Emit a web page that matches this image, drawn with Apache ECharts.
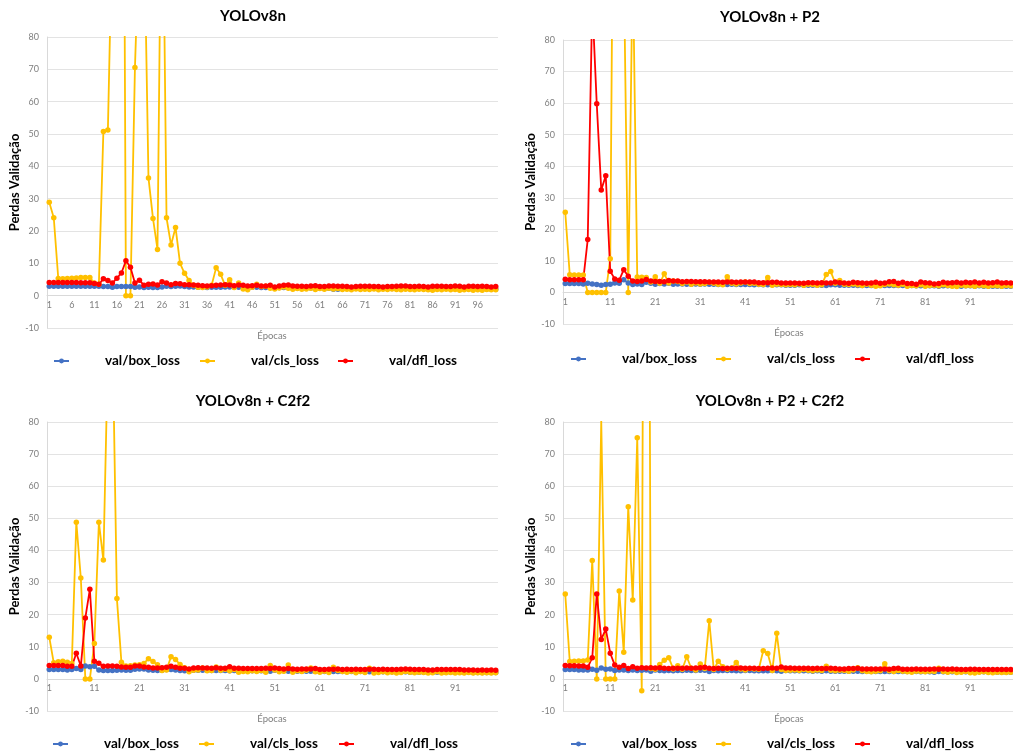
<!DOCTYPE html>
<html>
<head>
    <meta charset="utf-8">
    <script src="https://cdn.jsdelivr.net/npm/echarts@6/dist/echarts.min.js"></script>
    <style>
        body { margin: 0; background: #fff; }
        #main { width: 1013px; height: 753px; }
    </style>
</head>
<body>
<div id="main"></div>
<script type="text/javascript">
    // epochs 1..100 on the category axis
    var epocas = [];
    for (var i = 1; i <= 100; i++) {
        epocas.push(String(i));
    }

    var nomes = ['val/box_loss', 'val/cls_loss', 'val/dfl_loss'];
    var cores = ['#4472C4', '#FFC000', '#FF0000'];
    var titulos = ['YOLOv8n', 'YOLOv8n + P2', 'YOLOv8n + C2f2', 'YOLOv8n + P2 + C2f2'];

    // YOLOv8n
    var box1 = [2.9, 2.9, 2.9, 2.9, 2.9, 2.9, 2.9, 2.9, 2.9, 2.9,
        2.9, 2.9, 2.8, 2.8, 2.6, 2.8, 2.8, 2.8, 2.8, 2.6,
        2.7, 2.5, 2.6, 2.5, 2.5, 2.7, 2.9, 2.8, 2.9, 3.0,
        2.8, 2.7, 2.7, 2.6, 2.6, 2.5, 2.6, 2.6, 2.6, 2.7,
        2.7, 2.7, 2.6, 2.6, 2.5, 2.6, 2.6, 2.5, 2.5, 2.5,
        2.4, 2.5, 2.5, 2.5, 2.4, 2.4, 2.4, 2.4, 2.4, 2.4,
        2.4, 2.4, 2.3, 2.0, 2.0, 2.3, 2.3, 2.3, 2.3, 2.3,
        2.3, 2.3, 2.3, 2.2, 2.3, 2.3, 2.2, 2.3, 2.3, 2.3,
        2.2, 2.2, 2.2, 2.2, 2.2, 2.2, 2.2, 2.2, 2.2, 2.2,
        2.2, 2.2, 2.2, 2.1, 2.2, 2.1, 2.2, 2.1, 2.1, 2.1];
    var cls1 = [28.9, 24.1, 5.3, 5.2, 5.3, 5.4, 5.5, 5.6, 5.6, 5.6,
        3.9, 3.5, 50.8, 51.2, 116, 200, 300, 0, 0, 70.6,
        113, 117, 36.4, 23.9, 14.3, 150, 24.1, 15.7, 21.1, 10.0,
        6.9, 4.7, 3.2, 2.6, 2.5, 2.7, 3.2, 8.6, 6.6, 3.2,
        4.9, 2.5, 3.9, 2.1, 1.8, 2.6, 3.5, 2.8, 2.9, 2.3,
        2.1, 2.4, 2.7, 2.3, 2.0, 2.2, 2.0, 2.1, 2.3, 1.9,
        2.2, 2.0, 2.3, 2.1, 2.2, 1.9, 2.0, 1.8, 2.1, 1.9,
        2.0, 1.9, 2.1, 1.8, 2.0, 1.9, 2.1, 1.9, 1.8, 2.0,
        1.9, 1.8, 2.0, 1.9, 1.8, 1.7, 1.9, 1.8, 2.0, 1.8,
        1.9, 1.7, 1.8, 1.9, 1.7, 1.8, 1.7, 1.9, 1.8, 1.8];
    var dfl1 = [4.1, 4.1, 4.1, 4.1, 4.1, 4.1, 4.1, 4.0, 4.0, 4.0,
        3.8, 3.5, 5.2, 4.7, 3.9, 5.4, 7.0, 10.8, 8.8, 3.9,
        4.8, 3.2, 3.5, 3.6, 3.3, 4.3, 3.9, 3.4, 3.8, 3.7,
        3.4, 3.4, 3.3, 3.2, 3.1, 3.0, 3.1, 3.2, 3.3, 3.4,
        3.3, 3.1, 3.3, 3.2, 3.0, 3.1, 3.2, 3.0, 3.0, 3.2,
        2.7, 3.0, 3.2, 3.3, 3.0, 2.9, 2.9, 2.8, 3.0, 3.1,
        2.8, 2.8, 3.0, 3.0, 2.9, 2.9, 2.8, 2.7, 2.8, 2.9,
        2.9, 2.9, 2.8, 2.8, 2.7, 2.8, 2.8, 2.9, 3.0, 3.0,
        2.8, 2.8, 2.9, 2.8, 2.7, 2.9, 2.9, 2.9, 2.8, 2.8,
        3.0, 2.9, 2.7, 2.9, 2.9, 2.8, 2.9, 2.8, 2.7, 2.8];

    // YOLOv8n + P2
    var box2 = [2.8, 2.8, 2.8, 2.8, 2.7, 2.9, 2.7, 2.5, 2.3, 2.5,
        2.6, 3.0, 2.9, 4.0, 3.0, 2.5, 2.7, 2.5, 3.2, 2.9,
        2.6, 2.8, 2.7, 2.9, 2.6, 2.7, 2.7, 2.6, 2.6, 2.7,
        2.6, 2.7, 2.6, 2.6, 2.5, 2.6, 2.5, 2.6, 2.5, 2.5,
        2.5, 2.5, 2.4, 2.5, 2.4, 2.4, 2.4, 2.4, 2.4, 2.3,
        2.3, 2.3, 2.4, 2.3, 2.3, 2.3, 2.3, 2.3, 2.2, 2.4,
        2.4, 2.3, 2.3, 2.3, 2.3, 2.2, 2.2, 2.2, 2.2, 2.2,
        2.3, 2.2, 2.2, 2.2, 2.2, 2.2, 2.1, 2.2, 2.1, 2.1,
        2.1, 2.1, 2.1, 2.0, 2.1, 2.1, 2.1, 2.1, 2.0, 2.1,
        2.1, 2.0, 2.1, 2.0, 2.0, 2.0, 2.0, 2.0, 2.0, 2.0];
    var cls2 = [25.4, 5.6, 5.5, 5.5, 5.5, 0, 0, 0, 0, 0,
        10.7, 200, 150, 105, 0, 106, 4.9, 4.8, 4.7, 3.3,
        5.0, 2.9, 5.9, 3.0, 3.6, 3.5, 2.8, 3.3, 2.6, 3.0,
        2.7, 2.8, 3.2, 2.9, 2.6, 2.4, 5.0, 2.9, 2.7, 3.0,
        3.3, 2.8, 2.9, 2.6, 2.5, 4.7, 2.3, 2.6, 2.5, 2.4,
        2.5, 2.4, 2.7, 2.3, 2.6, 2.5, 2.3, 2.4, 5.7, 6.6,
        2.9, 3.8, 2.6, 2.5, 2.7, 2.4, 2.2, 2.6, 2.3, 2.0,
        2.1, 2.5, 2.7, 2.4, 2.3, 2.6, 2.0, 2.2, 2.1, 2.4,
        2.0, 2.2, 2.3, 2.1, 2.4, 2.2, 2.0, 1.9, 2.3, 2.1,
        2.2, 2.0, 2.3, 2.1, 2.0, 2.2, 2.1, 2.0, 2.2, 2.1];
    var dfl2 = [4.2, 4.0, 4.0, 4.0, 4.0, 16.8, 92, 59.8, 32.5, 37.0,
        6.7, 4.3, 3.9, 7.2, 5.1, 3.6, 3.5, 3.6, 4.1, 3.6,
        3.5, 3.5, 3.4, 3.8, 3.6, 3.6, 3.4, 3.5, 3.5, 3.4,
        3.4, 3.4, 3.3, 3.3, 3.3, 3.2, 3.3, 3.3, 3.2, 3.3,
        3.3, 3.3, 3.3, 3.1, 3.1, 3.1, 3.2, 3.2, 3.0, 3.0,
        3.0, 3.0, 2.9, 2.9, 3.1, 3.1, 3.0, 3.1, 3.0, 3.0,
        3.3, 3.1, 3.0, 2.9, 3.2, 3.1, 3.0, 2.9, 3.0, 3.2,
        2.9, 3.0, 3.4, 3.5, 2.9, 3.2, 2.8, 2.8, 2.6, 3.3,
        3.1, 3.0, 2.7, 2.8, 3.2, 3.0, 3.1, 3.2, 3.0, 3.2,
        3.1, 3.3, 3.0, 3.2, 3.0, 3.1, 3.3, 3.0, 3.1, 3.0];

    // YOLOv8n + C2f2
    var box3 = [2.9, 2.9, 2.9, 2.9, 2.8, 2.9, 3.2, 2.9, 4.0, 3.8,
        3.9, 2.8, 2.6, 2.6, 2.6, 2.7, 2.8, 2.7, 2.7, 3.0,
        3.1, 3.1, 2.8, 2.7, 2.6, 2.7, 2.9, 2.9, 2.8, 2.6,
        2.5, 2.5, 2.7, 2.7, 2.7, 2.7, 2.6, 2.6, 2.6, 2.6,
        2.5, 2.6, 2.6, 2.5, 2.5, 2.5, 2.5, 2.5, 2.4, 2.4,
        2.7, 2.5, 2.5, 2.4, 2.4, 2.4, 2.4, 2.4, 2.4, 2.4,
        2.3, 2.3, 2.3, 2.3, 2.3, 2.3, 2.3, 2.3, 2.2, 2.3,
        2.2, 2.2, 2.2, 2.2, 2.2, 2.2, 2.2, 2.2, 2.2, 2.2,
        2.1, 2.1, 2.1, 2.1, 2.1, 2.1, 2.1, 2.1, 2.1, 2.1,
        2.1, 2.1, 2.1, 2.1, 2.0, 2.0, 2.0, 2.0, 2.0, 2.0];
    var cls3 = [13.0, 5.0, 5.3, 5.5, 5.2, 4.8, 48.8, 31.4, 0, 0,
        11.0, 48.8, 37.0, 101, 110, 25.0, 5.2, 4.0, 4.1, 4.3,
        4.4, 4.8, 6.3, 5.4, 4.4, 2.6, 2.8, 6.9, 6.0, 4.5,
        3.5, 2.2, 2.7, 2.8, 3.4, 2.5, 2.6, 3.7, 2.7, 3.0,
        2.5, 2.9, 2.1, 2.3, 2.2, 2.5, 2.3, 2.6, 2.1, 4.2,
        2.8, 2.2, 2.4, 4.3, 2.1, 2.5, 2.3, 2.7, 3.4, 2.2,
        2.1, 2.4, 2.0, 3.6, 2.6, 2.3, 2.1, 2.4, 1.9, 2.3,
        2.0, 3.3, 1.8, 2.0, 2.2, 1.9, 2.1, 1.8, 2.0, 2.3,
        2.1, 1.9, 2.1, 2.0, 1.8, 1.9, 2.2, 1.8, 1.9, 2.0,
        1.8, 1.9, 1.8, 2.0, 1.8, 1.9, 1.8, 1.9, 1.8, 1.9];
    var dfl3 = [4.2, 4.2, 4.2, 4.2, 3.9, 3.9, 8.0, 4.0, 19.0, 27.9,
        5.5, 4.9, 3.9, 4.0, 4.0, 3.9, 3.7, 3.6, 3.6, 4.0,
        4.0, 3.7, 3.6, 3.4, 3.4, 3.5, 3.6, 3.9, 3.6, 3.3,
        3.3, 3.1, 3.4, 3.5, 3.4, 3.4, 3.3, 3.5, 3.3, 3.3,
        3.8, 3.3, 3.3, 3.2, 3.2, 3.2, 3.2, 3.2, 3.3, 3.2,
        3.4, 3.2, 3.1, 3.2, 3.1, 3.0, 3.1, 3.1, 3.1, 3.2,
        2.9, 2.9, 3.0, 3.0, 3.1, 2.9, 3.0, 2.9, 3.0, 2.9,
        2.9, 3.0, 3.0, 2.9, 3.0, 2.9, 2.9, 2.9, 3.0, 3.1,
        3.0, 2.9, 2.9, 2.9, 2.8, 2.8, 2.9, 2.9, 2.9, 2.9,
        2.9, 2.9, 2.8, 2.8, 2.8, 2.7, 2.8, 2.7, 2.8, 2.7];

    // YOLOv8n + P2 + C2f2
    var box4 = [2.9, 2.9, 2.9, 2.8, 2.8, 2.8, 3.0, 2.7, 3.4, 3.0,
        3.1, 2.6, 2.8, 2.8, 2.6, 2.8, 2.6, 2.7, 2.8, 2.4,
        2.8, 2.6, 2.5, 2.6, 2.5, 2.6, 2.6, 2.7, 2.6, 2.6,
        2.7, 2.7, 2.3, 2.6, 2.5, 2.6, 2.6, 2.6, 2.5, 2.5,
        2.6, 2.6, 2.5, 2.5, 2.5, 2.5, 2.6, 2.5, 2.4, 2.6,
        2.5, 2.5, 2.5, 2.5, 2.5, 2.4, 2.5, 2.4, 2.5, 2.4,
        2.4, 2.4, 2.4, 2.4, 2.4, 2.4, 2.3, 2.4, 2.3, 2.3,
        2.3, 2.3, 2.3, 2.3, 2.3, 2.3, 2.3, 2.3, 2.3, 2.2,
        2.3, 2.2, 2.1, 2.3, 2.2, 2.2, 2.2, 2.2, 2.2, 2.2,
        2.2, 2.2, 2.2, 2.2, 2.2, 2.2, 2.1, 2.1, 2.1, 2.1];
    var cls4 = [26.4, 5.4, 5.5, 5.6, 5.6, 5.9, 36.9, 0, 80.3, 0,
        0, 0, 27.4, 8.3, 53.6, 24.6, 75.1, -3.7, 400, 3.2,
        3.0, 4.5, 5.8, 6.6, 3.1, 4.1, 3.0, 6.9, 3.3, 2.8,
        4.6, 3.2, 18.1, 2.9, 5.5, 3.8, 3.0, 3.4, 5.1, 3.1,
        2.8, 3.2, 3.1, 3.0, 8.8, 7.9, 2.6, 14.2, 2.9, 2.6,
        2.7, 2.8, 2.6, 2.9, 2.7, 2.5, 2.8, 2.6, 3.9, 2.7,
        2.5, 2.7, 2.6, 2.4, 2.8, 3.5, 2.5, 2.3, 2.2, 2.4,
        2.5, 4.7, 2.5, 2.3, 2.6, 2.4, 2.2, 2.1, 2.4, 2.3,
        2.2, 2.4, 2.3, 3.3, 2.3, 2.1, 2.4, 2.0, 2.1, 2.3,
        1.9, 1.8, 2.1, 2.2, 2.0, 1.9, 2.1, 2.0, 2.0, 2.1];
    var dfl4 = [4.2, 4.1, 4.1, 4.0, 4.0, 3.6, 6.6, 26.4, 12.3, 15.5,
        8.0, 4.3, 3.6, 4.2, 3.2, 3.8, 3.3, 3.5, 3.4, 3.5,
        3.4, 3.5, 3.3, 3.2, 3.3, 3.3, 3.3, 3.4, 3.3, 3.4,
        3.5, 3.6, 3.3, 3.2, 3.3, 3.2, 3.3, 3.3, 3.3, 3.4,
        3.3, 3.3, 3.3, 3.2, 3.2, 3.3, 3.4, 3.3, 3.7, 3.4,
        3.4, 3.3, 3.3, 3.3, 3.3, 3.2, 3.3, 3.2, 3.2, 3.3,
        3.2, 3.1, 3.1, 3.2, 3.2, 3.3, 3.1, 3.1, 3.1, 3.1,
        3.1, 3.1, 3.0, 3.2, 3.3, 3.0, 3.0, 3.0, 3.1, 3.0,
        3.0, 3.0, 3.1, 3.0, 3.1, 3.0, 3.1, 3.0, 2.9, 2.9,
        3.0, 3.0, 2.9, 2.9, 2.9, 2.9, 2.9, 2.9, 2.9, 2.9];

    var dados = [[box1, cls1, dfl1], [box2, cls2, dfl2], [box3, cls3, dfl3], [box4, cls4, dfl4]];

    // panel layout (pixels); ex/ey = centre of the "Épocas" caption
    var paineis = [
        {left: 47, top: 37, width: 451, height: 291, tx: 253, ty: 9, every: 4, ly: 354, lx: [53, 199, 337], ex: 272, ey: 336},
        {left: 563, top: 40, width: 452, height: 284, tx: 770, ty: 10, every: 9, ly: 352, lx: [570, 715, 854], ex: 789, ey: 333},
        {left: 47, top: 422, width: 451, height: 289, tx: 253, ty: 394, every: 9, ly: 737, lx: [52, 198, 338], ex: 272, ey: 719},
        {left: 563, top: 422, width: 452, height: 289, tx: 770, ty: 394, every: 9, ly: 737, lx: [570, 715, 854], ex: 789, ey: 719}
    ];

    var fonte = 'Lato, "Open Sans", sans-serif';
    var option = {
        backgroundColor: '#fff',
        animation: false,
        title: [], grid: [], xAxis: [], yAxis: [], legend: [], series: [], graphic: []
    };

    for (var p = 0; p < paineis.length; p++) {
        var pn = paineis[p];
        option.title.push({
            text: titulos[p],
            left: pn.tx, top: pn.ty, textAlign: 'center', padding: 0,
            textStyle: {fontFamily: fonte, fontWeight: 'bold', fontSize: 15, color: '#000'}
        });
        option.grid.push({left: pn.left, top: pn.top, width: pn.width, height: pn.height, containLabel: false});
        // category axis sits on the zero line (one 10-unit step above the -10 floor)
        option.xAxis.push({
            type: 'category', gridIndex: p, data: epocas, boundaryGap: true,
            offset: -pn.height / 9,
            axisLine: {onZero: false, lineStyle: {color: '#D9D9D9'}},
            axisTick: {show: false},
            axisLabel: {interval: pn.every, fontFamily: fonte, fontSize: 9, color: '#7f7f7f', margin: 5}
        });
        option.graphic.push({
            type: 'text', x: pn.ex, y: pn.ey, silent: true,
            style: {text: 'Épocas', align: 'center', verticalAlign: 'middle',
                font: '9.5px ' + fonte, fill: '#7f7f7f'}
        });
        option.yAxis.push({
            type: 'value', gridIndex: p, min: -10, max: 80, interval: 10,
            name: 'Perdas Validação', nameLocation: 'middle', nameGap: 22,
            nameTextStyle: {fontFamily: fonte, fontWeight: 'bold', fontSize: 13, color: '#000'},
            axisLine: {show: true, lineStyle: {color: '#D9D9D9'}},
            axisTick: {show: false},
            axisLabel: {fontFamily: fonte, fontSize: 9, color: '#7f7f7f', margin: 8},
            splitLine: {lineStyle: {color: '#E3E3E3'}}
        });
        for (var s = 0; s < 3; s++) {
            option.legend.push({
                data: [nomes[s]], left: pn.lx[s], top: pn.ly, padding: 0,
                itemWidth: 15, itemHeight: 6, selectedMode: false,
                textStyle: {fontFamily: fonte, fontWeight: 'bold', fontSize: 13.5, color: '#000', padding: [0, 0, 0, 31]}
            });
            option.series.push({
                name: nomes[s], type: 'line',
                xAxisIndex: p, yAxisIndex: p,
                data: dados[p][s],
                symbol: 'circle', symbolSize: 5.5, showSymbol: true, showAllSymbol: true,
                lineStyle: {width: 1.8, color: cores[s]},
                itemStyle: {color: cores[s]},
                clip: true
            });
        }
    }

    var myChart = echarts.init(document.getElementById('main'));
    myChart.setOption(option);
</script>
</body>
</html>
